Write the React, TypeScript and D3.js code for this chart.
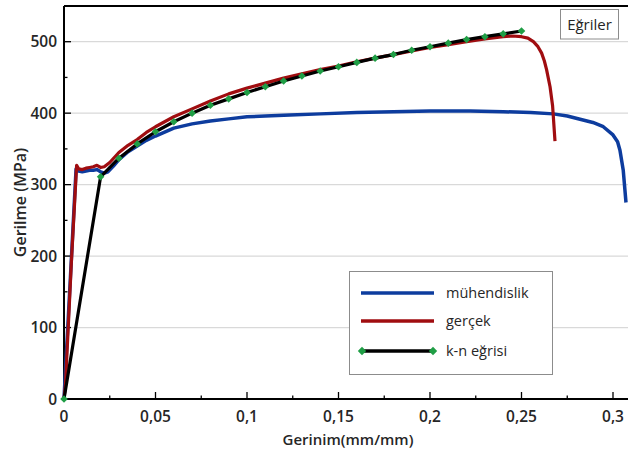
import React from "react";
import * as d3 from "d3";

// Engineering stress-strain curve ("mühendislik")
const strainEng = [0, 0.0005, 0.0035, 0.0066, 0.008, 0.010, 0.012, 0.014, 0.016, 0.018, 0.020, 0.022, 0.024, 0.027, 0.030, 0.035, 0.040, 0.045, 0.050, 0.060, 0.070, 0.080, 0.090, 0.100, 0.110, 0.1235, 0.140, 0.160, 0.180, 0.200, 0.222, 0.240, 0.255, 0.2674, 0.275, 0.282, 0.289, 0.2947, 0.300, 0.3025, 0.3038, 0.3056, 0.3071];
const stressEng = [0, 25, 170, 322, 319, 318, 319, 320, 320, 321, 318, 316, 318, 326, 335, 346, 354, 362, 368, 379, 385, 389, 392, 395, 396, 397.5, 399, 401, 402, 403, 403, 402, 401, 399, 396, 391.5, 387, 381, 369.5, 360, 348, 320, 275];

// True stress-strain curve ("gerçek")
const strainTrue = [0, 0.0008, 0.004, 0.0069, 0.008, 0.010, 0.012, 0.014, 0.016, 0.018, 0.020, 0.022, 0.025, 0.030, 0.035, 0.040, 0.045, 0.050, 0.060, 0.070, 0.080, 0.090, 0.100, 0.110, 0.120, 0.130, 0.140, 0.150, 0.160, 0.170, 0.180, 0.190, 0.200, 0.210, 0.220, 0.230, 0.240, 0.245, 0.250, 0.2535, 0.2565, 0.259, 0.261, 0.2625, 0.2637, 0.2656, 0.267, 0.2683];
const stressTrue = [0, 20, 190, 327, 322, 321, 323, 324, 325, 327, 324, 325, 331, 345, 355, 363, 373, 381, 395, 406, 417, 427, 435, 442, 449, 455, 461, 466, 472, 477, 482, 487, 492, 496, 500, 504, 507, 508, 507, 505, 500, 493, 484, 473, 461, 437, 410, 361];

// k-n curve ("k-n eğrisi")
const strainKn = [0, 0.02, 0.03, 0.04, 0.05, 0.06, 0.07, 0.08, 0.09, 0.10, 0.11, 0.12, 0.13, 0.14, 0.15, 0.16, 0.17, 0.18, 0.19, 0.20, 0.21, 0.22, 0.23, 0.24, 0.25];
const stressKn = [0, 311, 337, 357, 374, 388, 400, 411, 420, 429, 437, 445, 452, 459, 465, 471, 477, 482, 488, 493, 498, 503, 507, 511, 515];

const xTicks = [0, 0.05, 0.1, 0.15, 0.2, 0.25, 0.3];
const xTickLabels = ["0", "0,05", "0,1", "0,15", "0,2", "0,25", "0,3"];
const xMinorTicks = [0.025, 0.075, 0.125, 0.175, 0.225, 0.275, 0.325];
const yTicks = [0, 100, 200, 300, 400, 500];
const yMinorTicks = [50, 150, 250, 350, 450];

const seriesNames = ["mühendislik", "gerçek", "k-n eğrisi"];
const seriesColors = ["#0d3c9e", "#a00d10", "#000000"];
const markerColor = "#1f9e45";

const FONT = "'Open Sans', sans-serif";

const W = 628;
const H = 453;

export default function App() {
  const x = d3.scaleLinear().domain([0, 0.35]).range([64, 64 + 0.35 * 1830]);
  const y = d3.scaleLinear().domain([0, 550]).range([399, 399 - 550 * 0.7146]);

  const line = d3
    .line<[number, number]>()
    .x((d) => x(d[0]))
    .y((d) => y(d[1]));

  const eng: [number, number][] = strainEng.map((s, i) => [s, stressEng[i]]);
  const tru: [number, number][] = strainTrue.map((s, i) => [s, stressTrue[i]]);
  const kn: [number, number][] = strainKn.map((s, i) => [s, stressKn[i]]);

  const diamond = (cx: number, cy: number, r = 3.8) =>
    `M${cx},${cy - r}L${cx + r},${cy}L${cx},${cy + r}L${cx - r},${cy}Z`;

  const x0 = x(0);
  const xEnd = x(0.35);
  const yTop = y(550);
  const yBot = y(0);

  const legendRows = [293, 321, 351];

  return (
    <svg
      width={W}
      height={H}
      style={{ position: "absolute", left: 0, top: 0, background: "#fff" }}
      fontFamily={FONT}
    >
      <rect x={0} y={0} width={W} height={H} fill="#fff" />
      {/* gridlines */}
      {yTicks
        .filter((t) => t > 0)
        .map((t) => (
          <line key={"g" + t} x1={x0} x2={xEnd} y1={y(t)} y2={y(t)} stroke="#d9d9d9" strokeWidth={1.2} />
        ))}
      {/* plot border top */}
      <line x1={x0} x2={xEnd} y1={yTop} y2={yTop} stroke="#000" strokeWidth={2} />
      {/* axes */}
      <line x1={x0} x2={xEnd} y1={yBot} y2={yBot} stroke="#000" strokeWidth={2} />
      <line x1={x0} x2={x0} y1={yTop} y2={yBot} stroke="#000" strokeWidth={2} />
      {/* x ticks */}
      {xTicks.map((t) => (
        <line key={"xt" + t} x1={x(t)} x2={x(t)} y1={yBot} y2={yBot - 7} stroke="#000" strokeWidth={1.3} />
      ))}
      {xMinorTicks.map((t) => (
        <line key={"xm" + t} x1={x(t)} x2={x(t)} y1={yBot} y2={yBot - 3.5} stroke="#000" strokeWidth={1.3} />
      ))}
      {yTicks.map((t) => (
        <line key={"yt" + t} x1={x0} x2={x0 + 7} y1={y(t)} y2={y(t)} stroke="#000" strokeWidth={1.3} />
      ))}
      {yMinorTicks.map((t) => (
        <line key={"ym" + t} x1={x0} x2={x0 + 3.5} y1={y(t)} y2={y(t)} stroke="#000" strokeWidth={1.3} />
      ))}
      {/* tick labels */}
      {xTicks.map((t, i) => (
        <text key={"xl" + t} x={x(t)} y={422} textAnchor="middle" fontSize={15.5} fontWeight={600} fill="#262626">
          {xTickLabels[i]}
        </text>
      ))}
      {yTicks.map((t) => (
        <text key={"yl" + t} x={57} y={y(t)} dy="0.36em" textAnchor="end" fontSize={15.5} fontWeight={600} fill="#262626">
          {t}
        </text>
      ))}
      {/* axis titles */}
      <text x={348} y={445} textAnchor="middle" fontSize={15} fontWeight={600} fill="#262626">
        Gerinim(mm/mm)
      </text>
      <text
        transform={`translate(26,${(yTop + yBot) / 2}) rotate(-90)`}
        textAnchor="middle"
        fontSize={16}
        fontWeight={600}
        fill="#262626"
      >
        Gerilme (MPa)
      </text>
      {/* series */}
      <path d={line(eng) || ""} fill="none" stroke={seriesColors[0]} strokeWidth={3.5} strokeLinejoin="round" />
      <path d={line(tru) || ""} fill="none" stroke={seriesColors[1]} strokeWidth={3.2} strokeLinejoin="round" />
      <path d={line(kn) || ""} fill="none" stroke={seriesColors[2]} strokeWidth={3.2} strokeLinejoin="round" />
      {kn.map((d, i) => (
        <path key={"m" + i} d={diamond(x(d[0]), y(d[1]))} fill={markerColor} />
      ))}
      {/* legend */}
      <rect x={349.5} y={271.5} width={203} height={103} fill="#fff" stroke="#8c8c8c" strokeWidth={1} />
      {seriesNames.map((name, i) => (
        <g key={name}>
          <line x1={361} x2={434} y1={legendRows[i]} y2={legendRows[i]} stroke={seriesColors[i]} strokeWidth={3.5} />
          {i === 2 && (
            <>
              <path d={diamond(362, legendRows[i], 4.2)} fill={markerColor} />
              <path d={diamond(433, legendRows[i], 4.2)} fill={markerColor} />
            </>
          )}
          <text x={446} y={legendRows[i]} dy="0.33em" fontSize={14.5} fill="#262626">
            {name}
          </text>
        </g>
      ))}
      {/* title box */}
      <rect x={560.5} y={9.5} width={58} height={29.5} fill="#fff" stroke="#8c8c8c" strokeWidth={1} />
      <text x={589.5} y={24.5} dy="0.35em" textAnchor="middle" fontSize={15} fill="#262626">
        Eğriler
      </text>
    </svg>
  );
}
